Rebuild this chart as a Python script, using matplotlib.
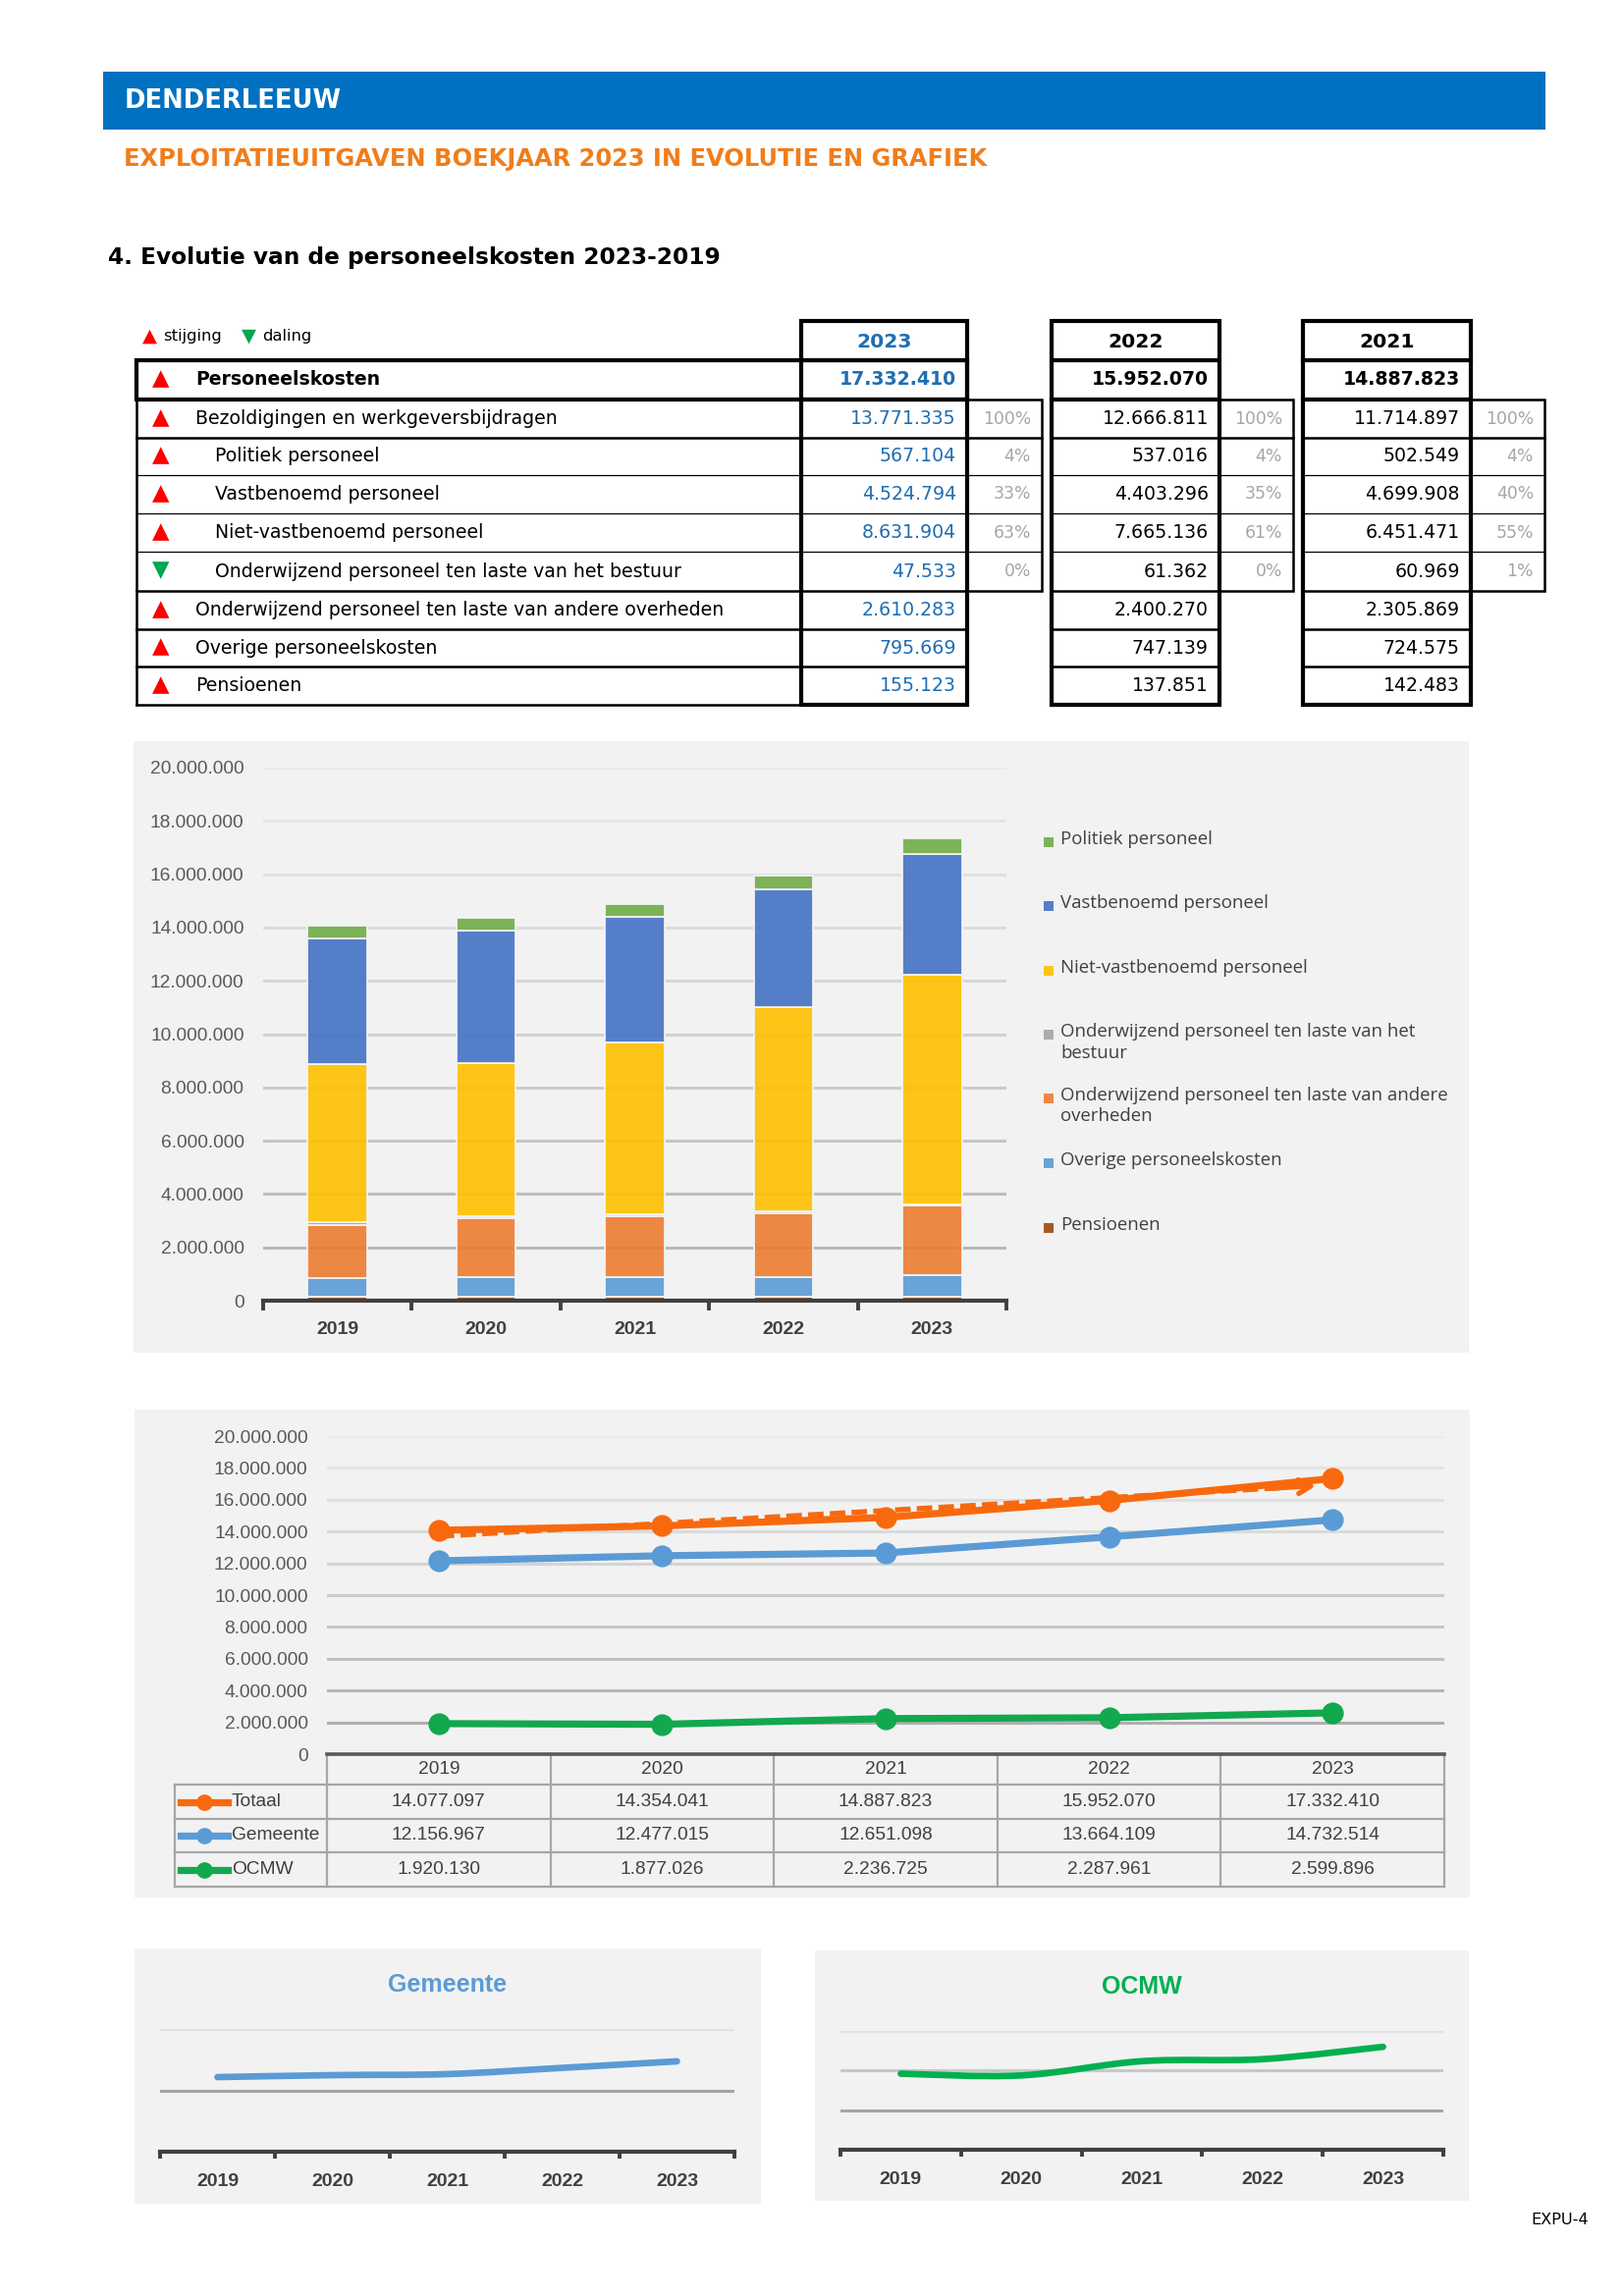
import numpy as np
import matplotlib
matplotlib.use('Agg')
import matplotlib.pyplot as plt
from matplotlib.patches import Rectangle, PathPatch
from matplotlib.path import Path
from matplotlib.ticker import FuncFormatter, FixedLocator

plt.rcParams['font.family'] = 'DejaVu Sans'

W, H = 1654, 2339
DPI = 200

# ---------------- data ----------------
years = ['2019', '2020', '2021', '2022', '2023']

table_labels = ['Personeelskosten', 'Bezoldigingen en werkgeversbijdragen', 'Politiek personeel',
                'Vastbenoemd personeel', 'Niet-vastbenoemd personeel',
                'Onderwijzend personeel ten laste van het bestuur',
                'Onderwijzend personeel ten laste van andere overheden',
                'Overige personeelskosten', 'Pensioenen']
table_indent = [0, 0, 1, 1, 1, 1, 0, 0, 0]
table_trend = [1, 1, 1, 1, 1, -1, 1, 1, 1]
table_years = ['2023', '2022', '2021']
values_2023 = [17332410, 13771335, 567104, 4524794, 8631904, 47533, 2610283, 795669, 155123]
values_2022 = [15952070, 12666811, 537016, 4403296, 7665136, 61362, 2400270, 747139, 137851]
values_2021 = [14887823, 11714897, 502549, 4699908, 6451471, 60969, 2305869, 724575, 142483]
pct_2023 = ['100%', '4%', '33%', '63%', '0%']
pct_2022 = ['100%', '4%', '35%', '61%', '0%']
pct_2021 = ['100%', '4%', '40%', '55%', '1%']

# stacked bars, bottom to top (2019 and 2020 estimated from the chart)
pensioenen = [140000, 140000, 142483, 137851, 155123]
overige = [690000, 760000, 724575, 747139, 795669]
ond_andere = [2020000, 2180000, 2305869, 2400270, 2610283]
ond_bestuur = [100000, 100000, 60969, 61362, 47533]
niet_vast = [5930000, 5750000, 6451471, 7665136, 8631904]
vast = [4720000, 4940000, 4699908, 4403296, 4524794]
politiek = [477000, 484000, 502549, 537016, 567104]

bar_colors = ['#9E480E', '#5B9BD5', '#ED7D31', '#A5A5A5', '#FFC000', '#4472C4', '#70AD47']
legend_labels = ['Politiek personeel', 'Vastbenoemd personeel', 'Niet-vastbenoemd personeel',
                 'Onderwijzend personeel ten laste van het\nbestuur',
                 'Onderwijzend personeel ten laste van andere\noverheden',
                 'Overige personeelskosten', 'Pensioenen']

totaal = [14077097, 14354041, 14887823, 15952070, 17332410]
gemeente = [12156967, 12477015, 12651098, 13664109, 14732514]
ocmw = [1920130, 1877026, 2236725, 2287961, 2599896]
line_names = ['Totaal', 'Gemeente', 'OCMW']

ORANGE = '#F8690E'
BLUE = '#5B9BD5'
GREEN = '#12A84E'
GREY_TXT = '#404040'
CHART_FONT = 'Liberation Sans'


def fmt(v):
    return f"{int(round(v)):,}".replace(',', '.')


def rect_px(x0, y0, x1, y1):
    return [x0 / W, 1 - y1 / H, (x1 - x0) / W, (y1 - y0) / H]


fig = plt.figure(figsize=(W / DPI, H / DPI), dpi=DPI)
pg = fig.add_axes([0, 0, 1, 1])
pg.set_xlim(0, W)
pg.set_ylim(H, 0)
pg.axis('off')


def box(x0, y0, x1, y1, **kw):
    pg.add_patch(Rectangle((x0, y0), x1 - x0, y1 - y0, **kw))


def line(x0, x1, y0, y1, lw, color='black'):
    pg.plot([x0, x1], [y0, y1], color=color, lw=lw, solid_capstyle='projecting')


# ---------------- header ----------------
box(105, 73, 1574, 132, facecolor='#0070C0', edgecolor='none')
pg.text(127, 103, 'DENDERLEEUW', color='white', fontsize=9.3, fontweight='bold', va='center')
pg.text(126, 162, 'EXPLOITATIEUITGAVEN BOEKJAAR 2023 IN EVOLUTIE EN GRAFIEK', color='#F07D1A',
        fontsize=8.7, fontweight='bold', va='center')
pg.text(110, 262, '4. Evolutie van de personeelskosten 2023-2019', color='black',
        fontsize=8.4, fontweight='bold', va='center')

# ---------------- table ----------------
pg.text(152, 342, '▲', color='#FF0000', fontsize=7, ha='center', va='center')
pg.text(166, 343, 'stijging', fontsize=5.9, va='center')
pg.text(253, 342, '▼', color='#00A650', fontsize=7, ha='center', va='center')
pg.text(267, 343, 'daling', fontsize=5.9, va='center')

row_y = [367, 407, 446, 484, 523, 562, 602, 641, 679, 718]
lab_x0, lab_x1 = 139, 816
cols = [(816, 985, 1061), (1071, 1242, 1317), (1327, 1498, 1573)]
col_values = [values_2023, values_2022, values_2021]
col_pcts = [pct_2023, pct_2022, pct_2021]
THICK, MED, THIN = 1.5, 0.9, 0.45
thin_rows = {484, 523, 562}

for i, lab in enumerate(table_labels):
    yc = (row_y[i] + row_y[i + 1]) / 2
    up = table_trend[i] > 0
    pg.text(164, yc - 1, '▲' if up else '▼', color='#FF0000' if up else '#00A650',
            fontsize=8.2, ha='center', va='center')
    pg.text(219 if table_indent[i] else 199, yc, lab, fontsize=6.8, va='center',
            fontweight='bold' if i == 0 else 'normal')
    for k, (c0, c1, c2) in enumerate(cols):
        pg.text(c1 - 11, yc, fmt(col_values[k][i]), fontsize=6.8, ha='right', va='center',
                color='#1F6DB3' if k == 0 else 'black', fontweight='bold' if i == 0 else 'normal')
        if 1 <= i <= 5:
            pg.text(c2 - 11, yc, col_pcts[k][i - 1], fontsize=6.2, ha='right', va='center',
                    color='#A6A6A6')

for y in row_y[2:]:
    line(lab_x0, lab_x1, y, y, THIN if y in thin_rows else MED)
line(lab_x0, lab_x0, row_y[1], row_y[-1], MED)
box(lab_x0, row_y[0], cols[0][1], row_y[1], facecolor='none', edgecolor='black', lw=THICK)

for k, (c0, c1, c2) in enumerate(cols):
    box(c0, 327, c1, row_y[-1], facecolor='none', edgecolor='black', lw=THICK)
    line(c0, c1, 367, 367, THICK)
    line(c0, c1, 407, 407, THICK)
    for y in row_y[2:-1]:
        line(c0, c1, y, y, THIN if y in thin_rows else MED)
    box(c1, 407, c2, 602, facecolor='none', edgecolor='black', lw=MED)
    for y in row_y[2:6]:
        line(c1, c2, y, y, THIN if y in thin_rows else MED)
    pg.text((c0 + c1) / 2, 348, table_years[k], fontsize=7.3, fontweight='bold', ha='center',
            va='center', color='#1F6DB3' if k == 0 else 'black')

# ---------------- stacked bar chart ----------------
box(136, 755, 1496, 1378, facecolor='#F2F2F2', edgecolor='none')
ax1 = fig.add_axes(rect_px(268, 782, 1025, 1325))
ax1.set_facecolor('none')
x = np.arange(len(years))
bottom = np.zeros(len(years))
bar_data = [pensioenen, overige, ond_andere, ond_bestuur, niet_vast, vast, politiek]
for vals, col in zip(bar_data, bar_colors):
    ax1.bar(x, vals, 0.4, bottom=bottom, color=col, alpha=0.9, edgecolor='#F4F4F4', lw=0.7, zorder=3)
    bottom += np.array(vals)
ax1.set_xlim(-0.5, 4.5)
ax1.set_ylim(0, 20e6)
yt = np.arange(0, 20e6 + 1, 2e6)
ax1.set_yticks(yt)
grid_cols = plt.cm.Greys(np.linspace(0.42, 0.16, len(yt)))
for v, gc in zip(yt[1:], grid_cols[1:]):
    ax1.axhline(v, color=gc, lw=1.1, zorder=1)
ax1.yaxis.set_major_formatter(FuncFormatter(lambda v, p: fmt(v)))
ax1.tick_params(axis='y', length=0, pad=7, labelsize=6.9, labelcolor='#595959')
ax1.set_xticks(x)
ax1.set_xticklabels(years, fontweight='bold')
ax1.xaxis.set_minor_locator(FixedLocator(np.arange(-0.5, 5, 1)))
ax1.tick_params(axis='x', which='major', length=0, pad=7.5, labelsize=7, labelcolor=GREY_TXT)
ax1.tick_params(axis='x', which='minor', length=3.5, width=1.4, color=GREY_TXT)
for s in ['top', 'right', 'left']:
    ax1.spines[s].set_visible(False)
ax1.spines['bottom'].set_linewidth(1.5)
ax1.spines['bottom'].set_color(GREY_TXT)
ax1.spines['bottom'].set_zorder(5)
for t in ax1.get_xticklabels() + ax1.get_yticklabels():
    t.set_fontfamily(CHART_FONT)

leg_y = [858, 923, 989, 1054, 1119, 1185, 1251]
for lab, col, y in zip(legend_labels, bar_colors[::-1], leg_y):
    box(1063, y - 5, 1073, y + 5, facecolor=col, alpha=0.9, edgecolor='none')
    pg.text(1080, y - 12, lab, fontsize=6.7, color=GREY_TXT, va='top', linespacing=1.25,
            family='Open Sans')

# ---------------- line chart with data table ----------------
box(137, 1436, 1497, 1933, facecolor='#F2F2F2', edgecolor='none')
L_X0, L_X1, L_Y0, L_Y1 = 333, 1471, 1463, 1787
ax2 = fig.add_axes(rect_px(L_X0, L_Y0, L_X1, L_Y1))
ax2.set_facecolor('none')
line_cols = [ORANGE, BLUE, GREEN]
for vals, col in zip([totaal, gemeente, ocmw], line_cols):
    ax2.plot(x, vals, color=col, lw=2.6, marker='o', ms=7, zorder=4)
coef = np.polyfit(x, totaal, 1)
tx = np.linspace(0, 3.8, 2)
ax2.plot(tx, np.polyval(coef, tx), color=ORANGE, lw=1.9, ls=(0, (3, 1.2)), zorder=3)
ax2.annotate('', xy=(3.95, np.polyval(coef, 3.95)), xytext=(3.7, np.polyval(coef, 3.7)),
             arrowprops=dict(arrowstyle='->,head_length=0.45,head_width=0.25', color=ORANGE, lw=1.9),
             zorder=3)
ax2.set_xlim(-0.5, 4.5)
ax2.set_ylim(0, 20e6)
ax2.set_yticks(yt)
grid_cols2 = plt.cm.Greys(np.linspace(0.45, 0.16, len(yt)))
for v, gc in zip(yt[1:], grid_cols2[1:]):
    ax2.axhline(v, color=gc, lw=1.1, zorder=1)
ax2.yaxis.set_major_formatter(FuncFormatter(lambda v, p: fmt(v)))
ax2.tick_params(axis='y', length=0, pad=7, labelsize=6.9, labelcolor='#595959')
ax2.set_xticks([])
for s in ['top', 'right', 'left']:
    ax2.spines[s].set_visible(False)
ax2.spines['bottom'].set_linewidth(1.3)
ax2.spines['bottom'].set_color('#595959')
for t in ax2.get_yticklabels():
    t.set_fontfamily(CHART_FONT)

tbl_y = [1787, 1818, 1853, 1887, 1922]
col_w = (L_X1 - L_X0) / len(years)
col_x = [L_X0 + j * col_w for j in range(len(years) + 1)]
TBL_C = '#A6A6A6'
for cx in col_x[1:]:
    line(cx, cx, tbl_y[0], tbl_y[-1], 0.8, TBL_C)
line(col_x[0], col_x[0], tbl_y[0], tbl_y[-1], 0.8, TBL_C)
line(178, 178, tbl_y[1], tbl_y[-1], 0.8, TBL_C)
for y in tbl_y[1:]:
    line(178, L_X1, y, y, 0.8, TBL_C)
for j, yr in enumerate(years):
    pg.text(col_x[j] + col_w / 2, (tbl_y[0] + tbl_y[1]) / 2, yr, ha='center', va='center',
            fontsize=6.9, color=GREY_TXT, family=CHART_FONT)
for r, (name, vals, col) in enumerate(zip(line_names, [totaal, gemeente, ocmw], line_cols)):
    yc = (tbl_y[r + 1] + tbl_y[r + 2]) / 2
    pg.plot([184, 232], [yc, yc], color=col, lw=2.6)
    pg.plot([208], [yc], marker='o', color=col, ms=5)
    pg.text(236, yc, name, va='center', fontsize=6.9, color=GREY_TXT, family=CHART_FONT)
    for j, v in enumerate(vals):
        pg.text(col_x[j] + col_w / 2, yc, fmt(v), ha='center', va='center', fontsize=6.9,
                color=GREY_TXT, family=CHART_FONT)


# ---------------- small smoothed charts ----------------
def smooth_path(xs, ys):
    pts = np.column_stack([xs, ys]).astype(float)
    verts, codes = [pts[0]], [Path.MOVETO]
    n = len(pts)
    for i in range(n - 1):
        p0, p1, p2, p3 = pts[max(i - 1, 0)], pts[i], pts[i + 1], pts[min(i + 2, n - 1)]
        verts += [p1 + (p2 - p0) / 6, p2 - (p3 - p1) / 6, p2]
        codes += [Path.CURVE4] * 3
    return Path(verts, codes)


def small_chart(panel, plot, title, vals, col, ymax, step):
    box(*panel, facecolor='#F2F2F2', edgecolor='none')
    pg.text((panel[0] + panel[2]) / 2, panel[1] + 37, title, ha='center', va='center',
            fontsize=9, fontweight='bold', color=col, family=CHART_FONT)
    ax = fig.add_axes(rect_px(*plot))
    ax.set_facecolor('none')
    ax.set_xlim(-0.5, 4.5)
    ax.set_ylim(0, ymax)
    gl = np.arange(step, ymax + 1, step)
    gcs = plt.cm.Greys(np.linspace(0.45, 0.2, len(gl)))
    for v, gc in zip(gl, gcs):
        ax.axhline(v, color=gc, lw=1.1, zorder=1)
    ax.add_patch(PathPatch(smooth_path(x, vals), facecolor='none', edgecolor=col, lw=2.4,
                           capstyle='round', zorder=3))
    ax.set_yticks([])
    ax.set_xticks(x)
    ax.set_xticklabels(years, fontweight='bold', family=CHART_FONT)
    ax.xaxis.set_minor_locator(FixedLocator(np.arange(-0.5, 5, 1)))
    ax.tick_params(axis='x', which='major', length=0, pad=8, labelsize=7, labelcolor=GREY_TXT)
    ax.tick_params(axis='x', which='minor', length=2.5, width=1.4, color=GREY_TXT)
    for s in ['top', 'right', 'left']:
        ax.spines[s].set_visible(False)
    ax.spines['bottom'].set_linewidth(1.5)
    ax.spines['bottom'].set_color(GREY_TXT)


small_chart((137, 1985, 775, 2245), (163, 2067, 748, 2192), 'Gemeente', gemeente, BLUE, 20e6, 10e6)
small_chart((830, 1987, 1496, 2242), (856, 2069, 1470, 2190), 'OCMW', ocmw, '#00B050', 3e6, 1e6)

pg.text(1559, 2262, 'EXPU-4', fontsize=5.8, va='center', color='black')

fig.savefig('out.png', dpi=DPI)
